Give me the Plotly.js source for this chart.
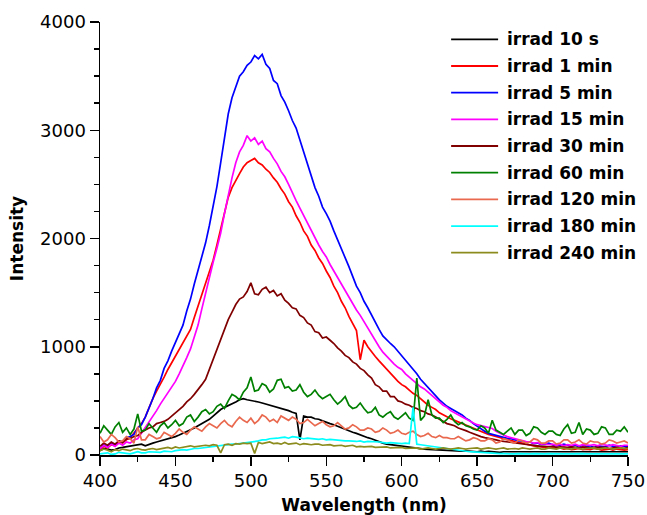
<!DOCTYPE html>
<html>
<head>
<meta charset="utf-8">
<script src="https://cdn.plot.ly/plotly-3.0.1.min.js"></script>
<style>html,body{margin:0;padding:0;background:#fff;}#chart{width:647px;height:515px;}</style>
</head>
<body>
<div id="chart"></div>
<script>
var wavelength = [
400,402.5,405,407.5,410,412.5,415,417.5,420,422.5,
425,427.5,430,432.5,435,437.5,440,442.5,445,447.5,
450,452.5,455,457.5,460,462.5,465,467.5,470,472.5,
475,477.5,480,482.5,485,487.5,490,492.5,495,497.5,
500,502.5,505,507.5,510,512.5,515,517.5,520,522.5,
525,527.5,530,532.5,535,537.5,540,542.5,545,547.5,
550,552.5,555,557.5,560,562.5,565,567.5,570,572.5,
575,577.5,580,582.5,585,587.5,590,592.5,595,597.5,
600,602.5,605,607.5,610,612.5,615,617.5,620,622.5,
625,627.5,630,632.5,635,637.5,640,642.5,645,647.5,
650,652.5,655,657.5,660,662.5,665,667.5,670,672.5,
675,677.5,680,682.5,685,687.5,690,692.5,695,697.5,
700,702.5,705,707.5,710,712.5,715,717.5,720,722.5,
725,727.5,730,732.5,735,737.5,740,742.5,745,747.5,
750];

var seriesNames = ["irrad 10 s","irrad 1 min","irrad 5 min","irrad 15 min","irrad 30 min","irrad 60 min","irrad 120 min","irrad 180 min","irrad 240 min"];
var seriesColors = ["#000000","#ff0000","#0000ff","#ff00ff","#800000","#008000","#e9694f","#00ffff","#8c8c1e"];

var irrad10s = [
40,60,55,45,50,65,70,75,80,85,
95,100,85,100,110,120,130,135,145,160,
170,185,200,220,235,250,270,290,310,330,
360,390,420,440,455,470,490,510,520,510,
505,500,490,480,470,460,455,440,430,420,
410,395,385,140,360,350,350,335,330,315,
300,290,280,265,250,240,225,210,200,185,
170,160,150,135,120,110,100,95,90,85,
80,75,70,65,60,58,55,52,50,48,
45,42,40,42,40,38,35,38,35,33,
30,35,30,33,30,28,25,30,30,28,
30,28,25,30,30,28,30,25,25,30,
30,28,25,30,30,28,30,25,25,30,
30,28,25,30,30,28,30,25,25,30,
30];
var irrad1min = [
50,80,65,95,85,120,110,140,160,200,
240,290,350,440,520,590,650,720,790,850,
910,970,1030,1090,1160,1270,1380,1490,1600,1700,
1800,1940,2080,2230,2380,2470,2540,2600,2660,2700,
2720,2740,2700,2680,2640,2610,2560,2520,2460,2410,
2340,2290,2210,2150,2070,2020,1940,1890,1820,1770,
1700,1640,1560,1500,1420,1360,1280,1220,1150,880,
1060,1000,950,910,870,830,790,750,710,680,
650,630,600,570,550,520,490,460,440,420,
390,370,350,335,320,305,290,275,260,245,
230,215,200,190,180,170,160,150,140,130,
120,115,110,100,90,85,80,75,70,75,
70,60,65,55,60,50,55,60,50,55,
50,60,55,45,50,55,45,55,50,45,
50];
var irrad5min = [
60,95,75,110,95,130,120,160,170,190,
250,280,350,430,520,620,690,800,870,960,
1040,1110,1200,1330,1440,1580,1700,1830,1960,2120,
2300,2480,2700,2950,3150,3300,3400,3500,3540,3600,
3630,3690,3660,3700,3610,3570,3460,3430,3320,3260,
3180,3090,3020,2910,2800,2690,2580,2470,2390,2290,
2230,2160,2070,1990,1900,1830,1740,1650,1560,1500,
1420,1360,1290,1220,1160,1100,1060,1030,1000,960,
920,870,830,790,750,700,660,620,580,540,
510,480,450,430,410,390,370,340,320,290,
265,240,220,200,190,185,170,165,155,150,
140,130,130,115,120,105,110,95,100,110,
95,85,90,100,90,80,90,75,90,80,
85,70,85,80,75,90,80,70,85,80,
75];
var irrad15min = [
60,90,70,100,80,110,90,120,110,140,
150,200,260,310,360,410,470,520,570,620,
680,750,820,900,980,1090,1200,1350,1500,1640,
1780,1910,2050,2230,2400,2560,2700,2800,2860,2950,
2900,2930,2870,2900,2830,2800,2740,2690,2620,2570,
2500,2420,2350,2280,2210,2150,2080,2000,1940,1880,
1830,1760,1700,1640,1580,1510,1450,1400,1340,1290,
1230,1180,1120,1060,1000,950,910,870,840,810,
790,750,720,690,660,630,610,580,550,520,
490,460,440,410,390,370,350,330,310,295,
280,270,260,250,245,220,200,185,170,160,
150,140,130,125,120,110,115,100,105,95,
100,90,100,85,95,90,100,85,95,90,
90,95,85,100,90,85,95,90,80,90,
90];
var irrad30min = [
80,110,90,120,100,130,120,150,150,170,
180,210,230,250,260,290,300,310,330,360,
390,420,450,490,520,560,600,650,700,790,
880,970,1060,1150,1250,1320,1390,1440,1460,1510,
1590,1490,1480,1530,1550,1500,1520,1470,1490,1430,
1400,1360,1350,1290,1270,1220,1200,1140,1130,1080,
1090,1060,1030,990,960,920,900,860,840,800,
780,740,710,650,630,590,590,540,540,500,
490,470,460,440,430,410,400,380,370,350,
330,310,290,280,270,250,240,225,210,195,
180,170,160,155,150,140,130,125,120,115,
110,105,100,95,90,85,85,80,80,75,
80,70,75,70,70,75,70,65,75,70,
65,70,70,65,70,60,65,70,65,60,
70];
var irrad60min = [
200,270,230,190,260,300,210,250,190,240,
380,220,230,290,250,210,270,300,250,280,
320,270,290,350,370,310,350,400,420,380,
400,450,470,430,500,560,540,510,580,620,
720,590,600,660,640,580,610,690,700,620,
630,590,600,650,580,540,560,600,550,520,
540,560,510,470,500,540,460,430,440,480,
430,390,400,440,370,350,380,400,350,330,
360,390,340,320,710,320,360,510,370,340,
340,300,330,370,310,280,300,270,260,240,
230,270,250,200,320,230,210,190,220,250,
190,230,230,180,200,260,250,210,190,220,
220,190,180,240,280,200,210,300,190,240,
230,190,200,260,250,190,190,230,220,260,
210];
var irrad120min = [
170,120,140,190,160,120,130,170,150,110,
260,140,140,190,170,150,160,210,190,170,
200,240,210,190,230,260,240,220,260,290,
270,250,290,320,280,260,310,350,320,300,
340,290,320,370,350,310,330,300,360,340,
320,350,330,290,300,330,300,270,290,310,
280,260,270,300,270,240,250,280,260,230,
230,250,240,210,220,250,230,200,210,230,
200,190,210,220,190,170,180,200,170,160,
180,160,160,150,150,170,150,130,140,160,
150,130,130,150,140,110,120,150,140,120,
110,140,130,110,120,150,140,110,110,130,
130,100,110,140,140,110,120,140,110,100,
130,120,120,100,110,140,130,110,120,130,
110];
var irrad180min = [
10,15,20,5,10,25,20,10,10,20,
30,20,20,30,30,25,25,35,35,30,
40,45,50,45,55,60,60,65,70,75,
80,80,85,90,95,100,100,105,110,110,
120,125,130,140,140,150,150,155,160,165,
155,170,165,160,150,155,150,145,145,150,
140,145,140,135,135,130,130,125,125,130,
120,125,125,120,120,115,110,115,110,105,
105,110,105,440,100,95,90,85,80,75,
70,60,55,50,45,40,35,35,30,28,
25,22,20,18,15,15,12,12,10,12,
10,12,10,8,10,12,10,8,10,12,
10,8,12,10,10,12,8,10,12,10,
10,8,12,10,10,12,8,10,12,10,
10];
var irrad240min = [
40,55,45,30,50,40,55,45,40,55,
60,50,45,55,60,50,55,65,70,60,
75,65,70,80,85,75,80,85,90,85,
95,90,20,95,100,90,105,100,110,105,
110,15,115,105,110,120,105,110,100,115,
100,105,110,95,105,100,95,100,100,90,
90,95,85,90,90,80,85,90,75,80,
75,80,80,70,70,75,75,65,65,70,
70,60,60,65,65,55,60,65,60,55,
60,65,60,55,60,65,60,55,60,65,
65,55,60,65,60,55,60,65,55,60,
60,55,65,60,55,60,65,55,55,65,
60,55,65,60,60,55,65,60,55,60,
60,65,55,60,65,60,55,60,65,60,
60];

var xTickVals = [400,450,500,550,600,650,700,750];
var yTickVals = [0,1000,2000,3000,4000];

var allSeries = [irrad10s, irrad1min, irrad5min, irrad15min, irrad30min, irrad60min, irrad120min, irrad180min, irrad240min];

var FONT = "DejaVu Sans, Arial, sans-serif";

var traces = allSeries.map(function (ys, i) {
  return {
    x: wavelength, y: ys, type: "scatter", mode: "lines",
    name: seriesNames[i], line: {color: seriesColors[i], width: 1.7},
    showlegend: false, hoverinfo: "skip"
  };
});

// Custom legend (line sample + label), built from names/colors
var shapes = [], annotations = [];
var legTop = 0.960, legStep = 0.0616;
seriesNames.forEach(function (nm, i) {
  var yy = legTop - i * legStep;
  shapes.push({type: "line", xref: "paper", yref: "paper", x0: 0.665, x1: 0.754, y0: yy, y1: yy,
               line: {color: seriesColors[i], width: 1.8}});
  annotations.push({xref: "paper", yref: "paper", x: 0.767, y: yy, xanchor: "left", yanchor: "middle",
                    showarrow: false, text: "<b>" + nm + "</b>",
                    font: {family: FONT, size: 17, color: "#000"}});
});

var axisCommon = {
  showline: true, linecolor: "#000", linewidth: 1.5, mirror: false,
  ticks: "outside", ticklen: 9, tickwidth: 1.5, tickcolor: "#000",
  showgrid: false, zeroline: false,
  tickfont: {family: FONT, size: 18, color: "#000"}
};

var layout = {
  width: 647, height: 515,
  margin: {l: 100, r: 19, t: 22, b: 60},
  paper_bgcolor: "#fff", plot_bgcolor: "#fff",
  font: {family: FONT, color: "#000"},
  xaxis: Object.assign({}, axisCommon, {
    range: [400, 750], tickvals: xTickVals, ticktext: xTickVals.map(String),
    minor: {dtick: 25, tick0: 400, ticks: "outside", ticklen: 5, tickwidth: 1.5, tickcolor: "#000", showgrid: false},
    title: {text: "<b>Wavelength (nm)</b>", font: {family: FONT, size: 17, color: "#000"}, standoff: 12}
  }),
  yaxis: Object.assign({}, axisCommon, {
    range: [0, 4000], tickvals: yTickVals, ticktext: yTickVals.map(String),
    minor: {dtick: 250, tick0: 0, ticks: "outside", ticklen: 5, tickwidth: 1.5, tickcolor: "#000", showgrid: false},
    title: {text: "<b>Intensity</b>", font: {family: FONT, size: 17, color: "#000"}, standoff: 12}
  }),
  shapes: shapes,
  annotations: annotations,
  showlegend: false
};

Plotly.newPlot("chart", traces, layout, {displayModeBar: false, staticPlot: true});
</script>
</body>
</html>
